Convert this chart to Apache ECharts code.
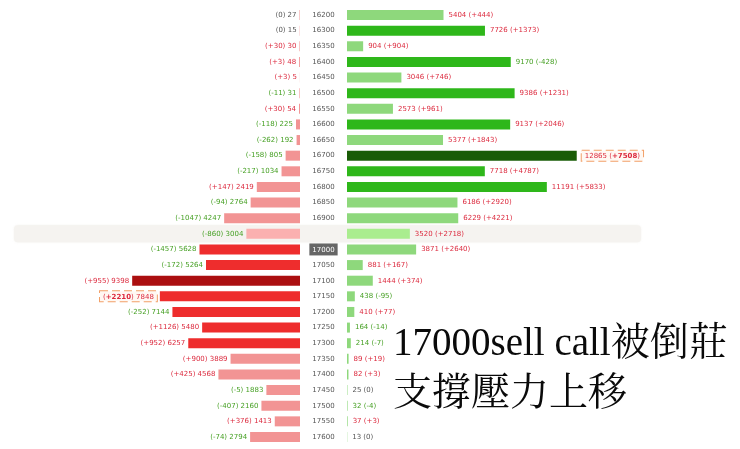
<!DOCTYPE html>
<html><head><meta charset="utf-8">
<script src="https://cdn.jsdelivr.net/npm/echarts@6/dist/echarts.min.js"></script>
<style>html,body{margin:0;padding:0;background:#fff}#c{width:740px;height:449px}</style>
</head><body><div id="c"></div>
<script>
const strikes = [16200,16300,16350,16400,16450,16500,16550,16600,16650,16700,16750,16800,16850,16900,16950,17000,17050,17100,17150,17200,17250,17300,17350,17400,17450,17500,17550,17600];
const callOI  = [27,15,30,48,5,31,54,225,192,805,1034,2419,2764,4247,3004,5628,5264,9398,7848,7144,5480,6257,3889,4568,1883,2160,1413,2794];
const callChg = [0,0,30,3,3,-11,30,-118,-262,-158,-217,147,-94,-1047,-860,-1457,-172,955,2210,-252,1126,952,900,425,-5,-407,376,-74];
const putOI   = [5404,7726,904,9170,3046,9386,2573,9137,5377,12865,7718,11191,6186,6229,3520,3871,881,1444,438,410,164,214,89,82,25,32,37,13];
const putChg  = [444,1373,904,-428,746,1231,961,2046,1843,7508,4787,5833,2920,4221,2718,2640,167,374,-95,77,-14,-7,19,3,0,-4,3,0];
const atmStrike = 17000;
const selStrike = 16950;
const noteLines = ['17000sell call被倒莊', '支撐壓力上移'];

const RED_T = '#dc2a3e', GREEN_T = '#46a024', GRAY_T = '#555';
const FONT = '"DejaVu Sans", Verdana, sans-serif';
const FS = 7;

function chgColor(c){ return c > 0 ? RED_T : (c < 0 ? GREEN_T : GRAY_T); }
function fmtChg(c){ return c > 0 ? '+' + c : String(c); }

function barColors(vals, pal){
  const sorted = vals.slice().sort((a,b)=>b-a);
  const max = sorted[0], thr = sorted[6];
  return vals.map((v,i)=>{
    if (strikes[i] === selStrike) return pal.sel;
    if (v === max) return pal.max;
    if (v >= thr) return pal.top;
    return pal.base;
  });
}
const callCols = barColors(callOI, {base:'#f29494', top:'#ee2d2d', max:'#ab0f10', sel:'#fbb0b0'});
const putCols  = barColors(putOI,  {base:'#8ed87c', top:'#2eb71a', max:'#195c07', sel:'#aaed8f'});

function maxIdx(arr){ let m=0; arr.forEach((v,i)=>{ if(v>arr[m]) m=i; }); return m; }
const callMaxChg = maxIdx(callChg), putMaxChg = maxIdx(putChg);

const boxStyle = {borderColor:'#f2a068', borderType:'dashed', borderWidth:1, padding:[2,3,1,3], backgroundColor:'#fff8f3'};

const callData = callOI.map((v,i)=>{
  const isMax = i === callMaxChg;
  const item = {value:v, itemStyle:{color:callCols[i]}};
  item.label = Object.assign({
    color: chgColor(callChg[i]),
    formatter: isMax ? '({b|' + fmtChg(callChg[i]) + '}) ' + v : '(' + fmtChg(callChg[i]) + ') ' + v
  }, isMax ? boxStyle : {});
  return item;
});
const putData = putOI.map((v,i)=>{
  const isMax = i === putMaxChg;
  const item = {value:v, itemStyle:{color:putCols[i]}};
  item.label = Object.assign({
    color: chgColor(putChg[i]),
    formatter: isMax ? v + ' ({b|' + fmtChg(putChg[i]) + '})' : v + ' (' + fmtChg(putChg[i]) + ')'
  }, isMax ? boxStyle : {});
  return item;
});
const bandData = strikes.map(s => s === selStrike ? 1 : '-');

const cats = strikes.map(String);
const TOP = 7.2, H = 437.6;
const hiddenY = (g)=>({type:'category', gridIndex:g, data:cats, inverse:true, show:false});

const chart = echarts.init(document.getElementById('c'), null, {renderer:'canvas'});
chart.setOption({
  animation:false,
  backgroundColor:'#fff',
  title:{
    text: noteLines.join('\n'), left:393, top:320, padding:0,
    textStyle:{fontFamily:'"Liberation Serif","Noto Serif CJK TC","Noto Sans CJK TC",serif', fontSize:39, fontWeight:'normal', lineHeight:50, color:'#0a0a0a'}
  },
  grid:[
    {left:14, width:627, top:TOP, height:H},
    {left:50, width:250, top:TOP, height:H},
    {left:347, width:250, top:TOP, height:H}
  ],
  xAxis:[
    {type:'value', gridIndex:0, min:0, max:1, show:false},
    {type:'value', gridIndex:1, min:0, max:14000, inverse:true, show:false},
    {type:'value', gridIndex:2, min:0, max:14000, show:false}
  ],
  yAxis:[
    hiddenY(0), hiddenY(1),
    {type:'category', gridIndex:2, data:cats, inverse:true,
     axisLine:{show:false}, axisTick:{show:false}, splitLine:{show:false},
     axisLabel:{margin:23.5, align:'center', color:'#555', fontFamily:FONT, fontSize:FS,
       formatter:(v)=> Number(v) === atmStrike ? '{a|' + v + '}' : v,
       rich:{a:{backgroundColor:'#666', color:'#fff', padding:[3,3,2,3], fontFamily:FONT, fontSize:FS}}}
    }
  ],
  series:[
    {type:'bar', xAxisIndex:0, yAxisIndex:0, data:bandData, barWidth:17, silent:true,
     itemStyle:{color:'#f5f3f0', borderRadius:4, shadowBlur:2, shadowColor:'rgba(238,235,230,0.7)'}},
    {type:'bar', xAxisIndex:1, yAxisIndex:1, data:callData, barWidth:10, silent:true,
     label:{show:true, position:'left', distance:3, fontFamily:FONT, fontSize:FS,
       rich:{b:{fontWeight:'bold', fontFamily:FONT, fontSize:FS}}}},
    {type:'bar', xAxisIndex:2, yAxisIndex:2, data:putData, barWidth:10, silent:true,
     label:{show:true, position:'right', distance:5, fontFamily:FONT, fontSize:FS,
       rich:{b:{fontWeight:'bold', fontFamily:FONT, fontSize:FS}}}}
  ]
});
</script></body></html>
